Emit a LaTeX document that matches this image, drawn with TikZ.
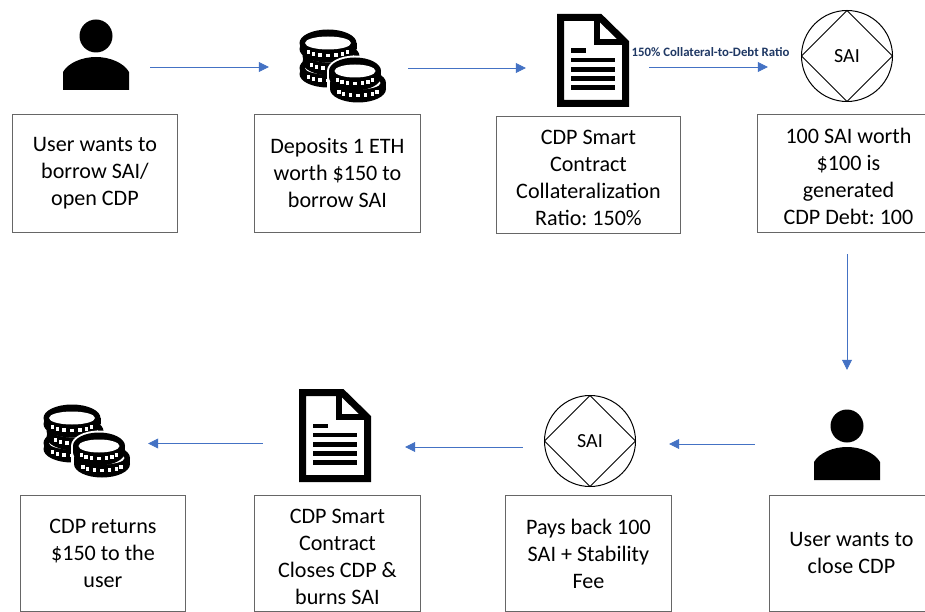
\documentclass[tikz,border=0pt]{standalone}
\usepackage{fontspec}
\setmainfont{Carlito}
\frenchspacing
\usetikzlibrary{arrows.meta}
\definecolor{flowblue}{HTML}{4472C4}
\definecolor{labelblue}{HTML}{1F3864}
\newcommand{\onecoin}[3]{%
  \fill[black] (#1-#3,#2) rectangle (#1+#3,#2+6);
  \fill[black] (#1,#2) ellipse [x radius=#3pt,y radius=13.5pt];
  \fill[black] (#1,#2+6) ellipse [x radius=#3pt,y radius=13.5pt];
  \fill[white] (#1,#2) ellipse [x radius=#3pt-5.5pt,y radius=6.5pt];
  \foreach \t in {155,133,112,90,68,47,25}{
    \fill[white] ({#1+(#3-7)*cos(\t)-1.6},{#2+6.5+6*sin(\t)-1.7}) rectangle ++(3.2,3.4);}
}
\newcommand{\dropdown}{\rule{0pt}{21pt}}
\tikzset{
  every node/.style={font=\fontsize{22.1}{27}\selectfont},
  flow/.style={draw=flowblue,line width=0.7pt,-{Triangle[length=10pt,width=10pt,fill=flowblue]}},
  infobox/.style={draw=black!60,line width=0.9pt,align=center,anchor=north west,inner sep=0pt,fill=white},
  iconspot/.style={inner sep=0pt,minimum width=2pt,minimum height=2pt},
  person/.pic={
    \fill[black] (0,-23) circle [radius=16.5pt];
    \fill[black] (-33,31) -- (-33,13) .. controls (-28,4) and (-14,-2) .. (0,-2)
      .. controls (14,-2) and (28,4) .. (33,13) -- (33,31) -- cycle;
  },
  coinstack/.pic={
    \onecoin{-14}{2}{28.5}
    \onecoin{-11}{-10}{28.5}
    \onecoin{-14}{-23}{28.5}
    \fill[white] (13,5) ellipse [x radius=28pt,y radius=15.5pt];
    \fill[white] (16,23) ellipse [x radius=30pt,y radius=15.5pt];
    \fill[white] (-15,5) rectangle (44,23);
    \onecoin{16}{17}{28}
    \onecoin{13}{5}{26}
  },
  docpage/.pic={
    \draw[black,line width=7pt,miter limit=10] (-32.5,-43) -- (7,-43) -- (32.5,-18) -- (32.5,43) -- (-32.5,43) -- cycle;
    \draw[black,line width=6.5pt] (4,-44) -- (4,-18.5) -- (32,-18.5);
    \foreach \yy in {-0.5,9,18,27}{\fill[black] (-22,\yy-2.2) rectangle (22,\yy+2.2);}
    \fill[black] (-22,-12) rectangle (-7,-7.6);
  },
  sailogo/.pic={
    \draw[black,line width=1pt] (0,0) circle [radius=45.5pt];
    \draw[black,line width=1pt] (-45.5,0) -- (0,-45.5) -- (45.5,0) -- (0,45.5) -- cycle;
    \node[font=\fontsize{20}{24}\selectfont] at (0,0.5) {SAI};
  }
}
\begin{document}
\begin{tikzpicture}[x=1pt,y=-1pt]
\useasboundingbox (0,0) rectangle (925,612);
\clip (0,0) rectangle (925,612);
\fill[white] (0,0) rectangle (925,612);

\node[iconspot] (person1) at (96,67) {};
\node[iconspot] (coins1in) at (342,67) {};
\node[iconspot] (coins1out) at (342,68) {};
\node[iconspot] (doc1in) at (593,68) {};
\node[iconspot] (doc1out) at (593,67) {};
\node[iconspot] (sai1) at (847,67) {};
\node[iconspot] (person2) at (847,444) {};
\node[iconspot] (sai2in) at (590,444) {};
\node[iconspot] (sai2out) at (590,447) {};
\node[iconspot] (doc2in) at (335,447) {};
\node[iconspot] (doc2out) at (335,443.5) {};
\node[iconspot] (coins2) at (86,443.5) {};

\pic at (96,59) {person};
\pic at (342,66) {coinstack};
\pic at (593,60.5) {docpage};
\pic at (847,56) {sailogo};
\pic at (847,449) {person};
\pic at (590,441) {sailogo};
\pic at (335,435.5) {docpage};
\pic at (86,441) {coinstack};

\node[infobox,minimum width=165pt,minimum height=118pt] (b1) at (12,114) {User wants to\\borrow SAI/\\open CDP};
\node[infobox,minimum width=166pt,minimum height=118pt] (b2) at (254,114) {Deposits 1 ETH\\worth \$150 to\\borrow SAI};
\node[infobox,minimum width=184pt,minimum height=117pt] (b3) at (496,116) {\dropdown CDP Smart\\Contract\\Collateralization\\Ratio: 150\%};
\node[infobox,minimum width=182pt,minimum height=118pt] (b4) at (757,114) {\dropdown 100 SAI worth\\\$100 is\\generated\\CDP Debt: 100};
\node[infobox,minimum width=165pt,minimum height=116pt] (b5) at (20,495) {CDP returns\\\$150 to the\\user};
\node[infobox,minimum width=166pt,minimum height=116pt] (b6) at (254,495) {\dropdown CDP Smart\\Contract\\Closes CDP \&\\burns SAI};
\node[infobox,minimum width=166pt,minimum height=116pt] (b7) at (505,495) {Pays back 100\\SAI + Stability\\Fee};
\node[infobox,minimum width=164pt,minimum height=116pt] (b8) at (769,495) {User wants to\\close CDP};

\node[font=\bfseries\fontsize{12.8}{14}\selectfont,text=labelblue,inner sep=0pt] (ratio) at (710.5,52) {150\% Collateral-to-Debt Ratio};

\draw[flow,shorten <=53pt,shorten >=72pt] (person1) -- (coins1in);
\draw[flow,shorten <=65pt,shorten >=66pt] (coins1out) -- (doc1in);
\draw[flow,shorten <=55pt,shorten >=78pt] (doc1out) -- (sai1);
\draw[flow,shorten <=186pt,shorten >=73pt] (sai1) -- (person2);
\draw[flow,shorten <=91pt,shorten >=78pt] (person2) -- (sai2in);
\draw[flow,shorten <=66pt,shorten >=69pt] (sai2out) -- (doc2in);
\draw[flow,shorten <=71pt,shorten >=61pt] (doc2out) -- (coins2);
\end{tikzpicture}
\end{document}
